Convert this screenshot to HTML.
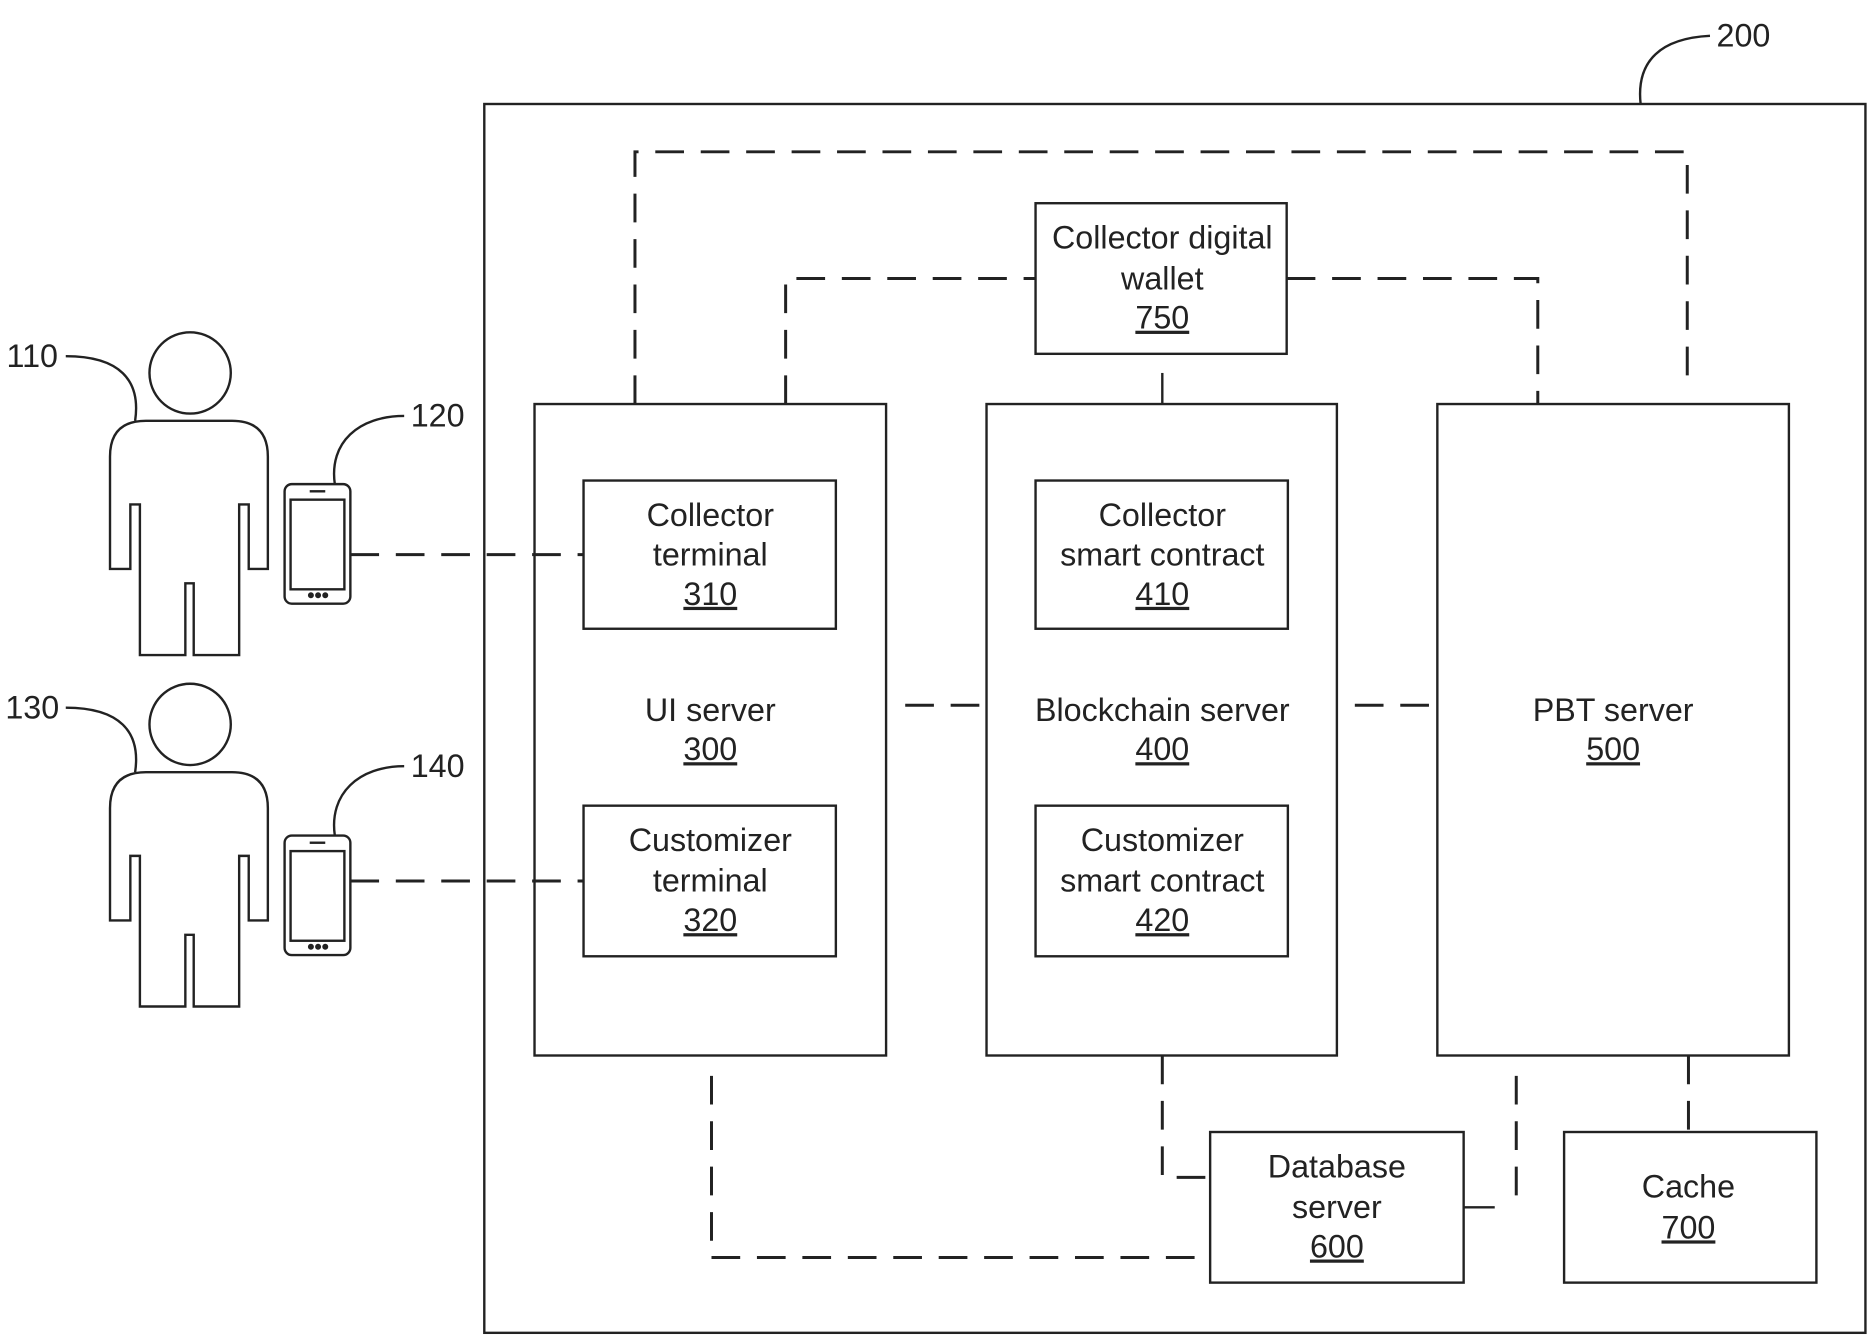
<!DOCTYPE html>
<html><head><style>html,body{margin:0;padding:0;background:#fff}svg{display:block}</style></head>
<body>
<svg width="1875" height="1340" viewBox="0 0 1568 1121" preserveAspectRatio="none" xmlns="http://www.w3.org/2000/svg" font-family="Liberation Sans, Arial, sans-serif" font-size="27" fill="none" stroke="#222" stroke-width="2">
<defs>
<g id="person">
<circle cx="159" cy="312" r="34"/>
<path d="M92,476 L92,382 Q92,352 122,352 L194,352 Q224,352 224,382 L224,476 L208,476 L208,422 L200,422 L200,548 L162,548 L162,488 L155,488 L155,548 L117,548 L117,422 L109,422 L109,476 Z"/>
</g>
<g id="phone">
<rect x="238" y="405" width="55" height="100" rx="6"/>
<rect x="243" y="418" width="45" height="75"/>
<line x1="259" y1="411" x2="272" y2="411"/>
<circle cx="260" cy="498" r="1.5" fill="#222"/><circle cx="266" cy="498" r="1.5" fill="#222"/><circle cx="272" cy="498" r="1.5" fill="#222"/>
</g>
</defs>
<rect x="405" y="87" width="1155" height="1028"/>
<path d="M1372,87 C1368,50 1390,32 1430,30"/>
<g stroke-dasharray="24,14" stroke-width="2.5">
<path d="M531,338 L531,127 L1411,127 L1411,323"/>
<path d="M657,338 L657,233 L866,233"/>
<path d="M1076,233 L1286,233 L1286,338"/>
<path d="M757,590 L824,590"/>
<path d="M1133,590 L1202,590"/>
<path d="M972,883 L972,985 L1012,985"/>
<path d="M595,900 L595,1052 L1012,1052"/>
<path d="M1268,900 L1268,1010"/>
<path d="M1412,883 L1412,947"/>
<path d="M293,464 L488,464"/>
<path d="M293,737 L488,737"/>
</g>
<line x1="972" y1="312" x2="972" y2="338"/>
<line x1="1224" y1="1010" x2="1250" y2="1010"/>
<rect x="866" y="170" width="210" height="126"/>
<rect x="447" y="338" width="294" height="545"/>
<rect x="488" y="402" width="211" height="124"/>
<rect x="488" y="674" width="211" height="126"/>
<rect x="825" y="338" width="293" height="545"/>
<rect x="866" y="402" width="211" height="124"/>
<rect x="866" y="674" width="211" height="126"/>
<rect x="1202" y="338" width="294" height="545"/>
<rect x="1012" y="947" width="212" height="126"/>
<rect x="1308" y="947" width="211" height="126"/>
<use href="#person"/><use href="#person" transform="translate(0,294)"/>
<use href="#phone"/><use href="#phone" transform="translate(0,294)"/>
<path d="M55,298 C100,298 118,318 113,352"/>
<path d="M55,592 C100,592 118,612 113,646"/>
<path d="M280,405 C275,370 300,348 338,348"/>
<path d="M280,699 C275,664 300,641 338,641"/>
<g fill="#222" stroke="none" text-anchor="middle">
<text x="1458" y="39">200</text>
<text x="27" y="307">110</text><text x="366" y="357">120</text>
<text x="27" y="601">130</text><text x="366" y="650">140</text>
<text x="972" y="208">Collector digital</text><text x="972" y="242">wallet</text><text x="972" y="275" text-decoration="underline">750</text>
<text x="594" y="440">Collector</text><text x="594" y="473">terminal</text><text x="594" y="506" text-decoration="underline">310</text>
<text x="594" y="603">UI server</text><text x="594" y="636" text-decoration="underline">300</text>
<text x="594" y="712">Customizer</text><text x="594" y="746">terminal</text><text x="594" y="779" text-decoration="underline">320</text>
<text x="972" y="440">Collector</text><text x="972" y="473">smart contract</text><text x="972" y="506" text-decoration="underline">410</text>
<text x="972" y="603">Blockchain server</text><text x="972" y="636" text-decoration="underline">400</text>
<text x="972" y="712">Customizer</text><text x="972" y="746">smart contract</text><text x="972" y="779" text-decoration="underline">420</text>
<text x="1349" y="603">PBT server</text><text x="1349" y="636" text-decoration="underline">500</text>
<text x="1118" y="985">Database</text><text x="1118" y="1019">server</text><text x="1118" y="1052" text-decoration="underline">600</text>
<text x="1412" y="1002">Cache</text><text x="1412" y="1036" text-decoration="underline">700</text>
</g>
</svg>
</body></html>
